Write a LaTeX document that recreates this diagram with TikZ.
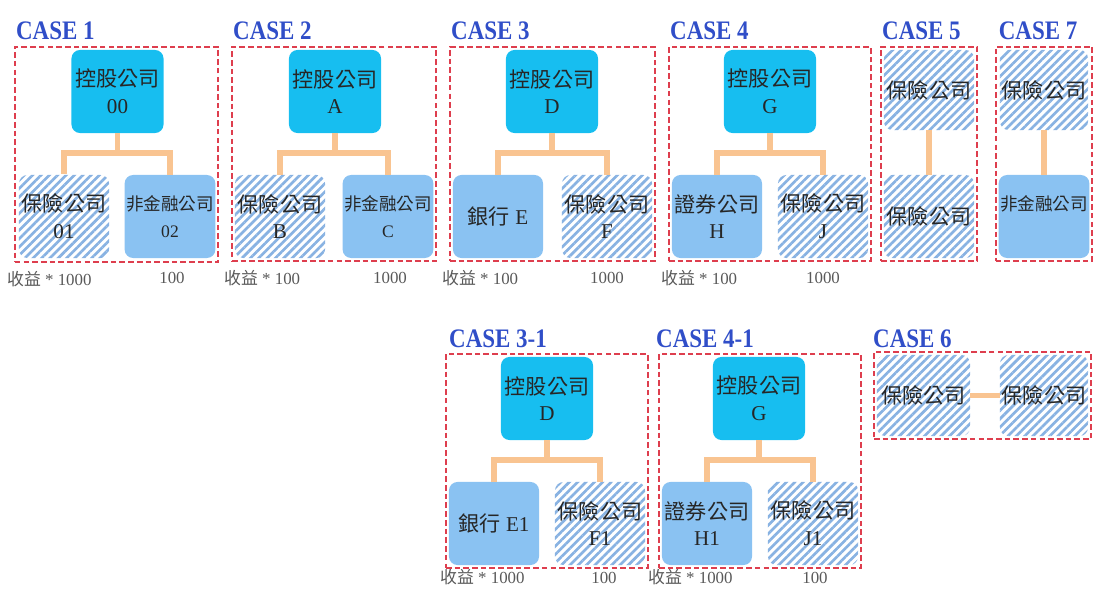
\documentclass[tikz,border=0pt]{standalone}
\usepackage{fontspec}
\setmainfont{Liberation Serif}
\newfontfamily\cjk{Noto Sans CJK TC}
\newfontfamily\casefont{Liberation Serif}[FakeStretch=0.86]
\usetikzlibrary{fit,patterns.meta}
\definecolor{holdblue}{RGB}{23,190,240}
\definecolor{subblue}{RGB}{138,194,242}
\definecolor{hatchblue}{RGB}{136,178,226}
\definecolor{linkorange}{RGB}{249,196,145}
\definecolor{framered}{RGB}{222,62,78}
\definecolor{caseblue}{RGB}{48,78,200}

\begin{document}
\begin{tikzpicture}[x=0.025cm,y=-0.025cm,font=\fontsize{15}{19}\selectfont,text=black!85,
  hold/.style={fill=holdblue,rounded corners=6pt,align=center,inner sep=1pt,minimum width=2.3cm,minimum height=2.075cm},
  sub/.style={fill=subblue,rounded corners=6pt,align=center,inner sep=1pt,minimum width=2.25cm,minimum height=2.075cm},
  ins/.style={pattern={Lines[angle=45,distance=4.2pt,line width=1.9pt]},pattern color=hatchblue,rounded corners=6pt,align=center,inner sep=1pt,minimum width=2.25cm,minimum height=2.075cm},
  nf/.style={font=\fontsize{12.5}{19}\selectfont},
  link/.style={draw=linkorange,line width=4pt},
  casebox/.style={draw=framered,dash pattern=on 4pt off 2.2pt,line width=1.4pt,inner sep=2pt},
  caselbl/.style={font=\casefont\fontsize{19}{22}\selectfont\bfseries,text=caseblue,anchor=base west,inner sep=0pt},
  note/.style={font=\fontsize{12}{14}\selectfont,text=black!65,inner sep=0pt}]
  \useasboundingbox (0,0) rectangle (1093,592);
  % case 1
  \node[hold] (t1)  at (117.5,91.5) {{\cjk 控股公司}\\00};
  \node[ins]  (c1a) at (64,216.5)   {{\cjk 保險公司}\\01};
  \node[sub,nf] (c1b) at (170,216.5) {{\cjk 非金融公司}\\02};
  \draw[link] (t1.south) -- ++(0,19.5) -| (c1a.north);
  \draw[link] (t1.south) -- ++(0,19.5) -| (c1b.north);
  \node[casebox,fit=(t1)(c1a)(c1b)] (f1) {};
  \node[caselbl] (l1) at ([shift={(0.05cm,0.17cm)}]f1.north west) {CASE 1};
  \node[note,anchor=base west] (n1a) at ([shift={(-0.175cm,-0.55cm)}]f1.south west) {{\cjk 收益} * 1000};
  \node[note,anchor=base] (n1b) at ([shift={(0.05cm,-0.62cm)}]c1b.south) {100};
  % case 2
  \node[hold] (t2)  at (335,91.5) {{\cjk 控股公司}\\A};
  \node[ins]  (c2a) at (280,216.5) {{\cjk 保險公司}\\B};
  \node[sub,nf] (c2b) at (388,216.5) {{\cjk 非金融公司}\\C};
  \draw[link] (t2.south) -- ++(0,19.5) -| (c2a.north);
  \draw[link] (t2.south) -- ++(0,19.5) -| (c2b.north);
  \node[casebox,fit=(t2)(c2a)(c2b)] (f2) {};
  \node[caselbl] (l2) at ([shift={(0.05cm,0.17cm)}]f2.north west) {CASE 2};
  \node[note,anchor=base west] (n2a) at ([shift={(-0.175cm,-0.55cm)}]f2.south west) {{\cjk 收益} * 100};
  \node[note,anchor=base] (n2b) at ([shift={(0.05cm,-0.62cm)}]c2b.south) {1000};
  % case 3
  \node[hold] (t3)  at (552,91.5) {{\cjk 控股公司}\\D};
  \node[sub]  (c3a) at (498,216.5) {{\cjk 銀行} E};
  \node[ins]  (c3b) at (607,216.5) {{\cjk 保險公司}\\F};
  \draw[link] (t3.south) -- ++(0,19.5) -| (c3a.north);
  \draw[link] (t3.south) -- ++(0,19.5) -| (c3b.north);
  \node[casebox,fit=(t3)(c3a)(c3b)] (f3) {};
  \node[caselbl] (l3) at ([shift={(0.05cm,0.17cm)}]f3.north west) {CASE 3};
  \node[note,anchor=base west] (n3a) at ([shift={(-0.175cm,-0.55cm)}]f3.south west) {{\cjk 收益} * 100};
  \node[note,anchor=base] (n3b) at ([shift={(0cm,-0.62cm)}]c3b.south) {1000};
  % case 4
  \node[hold] (t4)  at (770,91.5) {{\cjk 控股公司}\\G};
  \node[sub]  (c4a) at (717,216.5) {{\cjk 證券公司}\\H};
  \node[ins]  (c4b) at (823,216.5) {{\cjk 保險公司}\\J};
  \draw[link] (t4.south) -- ++(0,19.5) -| (c4a.north);
  \draw[link] (t4.south) -- ++(0,19.5) -| (c4b.north);
  \node[casebox,fit=(t4)(c4a)(c4b)] (f4) {};
  \node[caselbl] (l4) at ([shift={(0.05cm,0.17cm)}]f4.north west) {CASE 4};
  \node[note,anchor=base west] (n4a) at ([shift={(-0.175cm,-0.55cm)}]f4.south west) {{\cjk 收益} * 100};
  \node[note,anchor=base] (n4b) at ([shift={(0cm,-0.62cm)}]c4b.south) {1000};
  % case 5
  \node[ins,minimum height=2cm] (c5a) at (929,90) {{\cjk 保險公司}};
  \node[ins]  (c5b) at (929,216.5) {{\cjk 保險公司}};
  \draw[link] (c5a.south) -- (c5b.north);
  \node[casebox,fit=(c5a)(c5b)] (f5) {};
  \node[caselbl] (l5) at ([shift={(0.05cm,0.17cm)}]f5.north west) {CASE 5};
  % case 7
  \node[ins,minimum width=2.2cm,minimum height=2cm] (c7a) at (1044,90) {{\cjk 保險公司}};
  \node[sub,nf,minimum width=2.2cm] (c7b) at (1044,216.5) {{\cjk 非金融公司}\\\mbox{}};
  \draw[link] (c7a.south) -- (c7b.north);
  \node[casebox,fit=(c7a)(c7b)] (f7) {};
  \node[caselbl] (l7) at ([shift={(0.1cm,0.17cm)}]f7.north west) {CASE 7};
  % case 3-1
  \node[hold] (t31)  at (547,398.5) {{\cjk 控股公司}\\D};
  \node[sub]  (c31a) at (494,523.5) {{\cjk 銀行} E1};
  \node[ins]  (c31b) at (600,523.5) {{\cjk 保險公司}\\F1};
  \draw[link] (t31.south) -- ++(0,20) -| (c31a.north);
  \draw[link] (t31.south) -- ++(0,20) -| (c31b.north);
  \node[casebox,fit=(t31)(c31a)(c31b)] (f31) {};
  \node[caselbl] (l31) at ([shift={(0.1cm,0.13cm)}]f31.north west) {CASE 3-1};
  \node[note,anchor=base west] (n31a) at ([shift={(-0.125cm,-0.37cm)}]f31.south west) {{\cjk 收益} * 1000};
  \node[note,anchor=base] (n31b) at ([shift={(0.1cm,-0.45cm)}]c31b.south) {100};
  % case 4-1
  \node[hold] (t41)  at (759,398.5) {{\cjk 控股公司}\\G};
  \node[sub]  (c41a) at (707,523.5) {{\cjk 證券公司}\\H1};
  \node[ins]  (c41b) at (813,523.5) {{\cjk 保險公司}\\J1};
  \draw[link] (t41.south) -- ++(0,20) -| (c41a.north);
  \draw[link] (t41.south) -- ++(0,20) -| (c41b.north);
  \node[casebox,fit=(t41)(c41a)(c41b)] (f41) {};
  \node[caselbl] (l41) at ([shift={(-0.05cm,0.13cm)}]f41.north west) {CASE 4-1};
  \node[note,anchor=base west] (n41a) at ([shift={(-0.25cm,-0.37cm)}]f41.south west) {{\cjk 收益} * 1000};
  \node[note,anchor=base] (n41b) at ([shift={(0.05cm,-0.45cm)}]c41b.south) {100};
  % case 6
  \node[ins,minimum width=2.325cm,minimum height=2.025cm] (c6a) at (923.5,395.5) {{\cjk 保險公司}};
  \node[ins,minimum width=2.2cm,minimum height=2.025cm] (c6b) at (1044,395.5) {{\cjk 保險公司}};
  \draw[link] (c6a.east) -- (c6b.west);
  \node[casebox,fit=(c6a)(c6b)] (f6) {};
  \node[caselbl] (l6) at ([shift={(0cm,0.09cm)}]f6.north west) {CASE 6};
\end{tikzpicture}
\end{document}
